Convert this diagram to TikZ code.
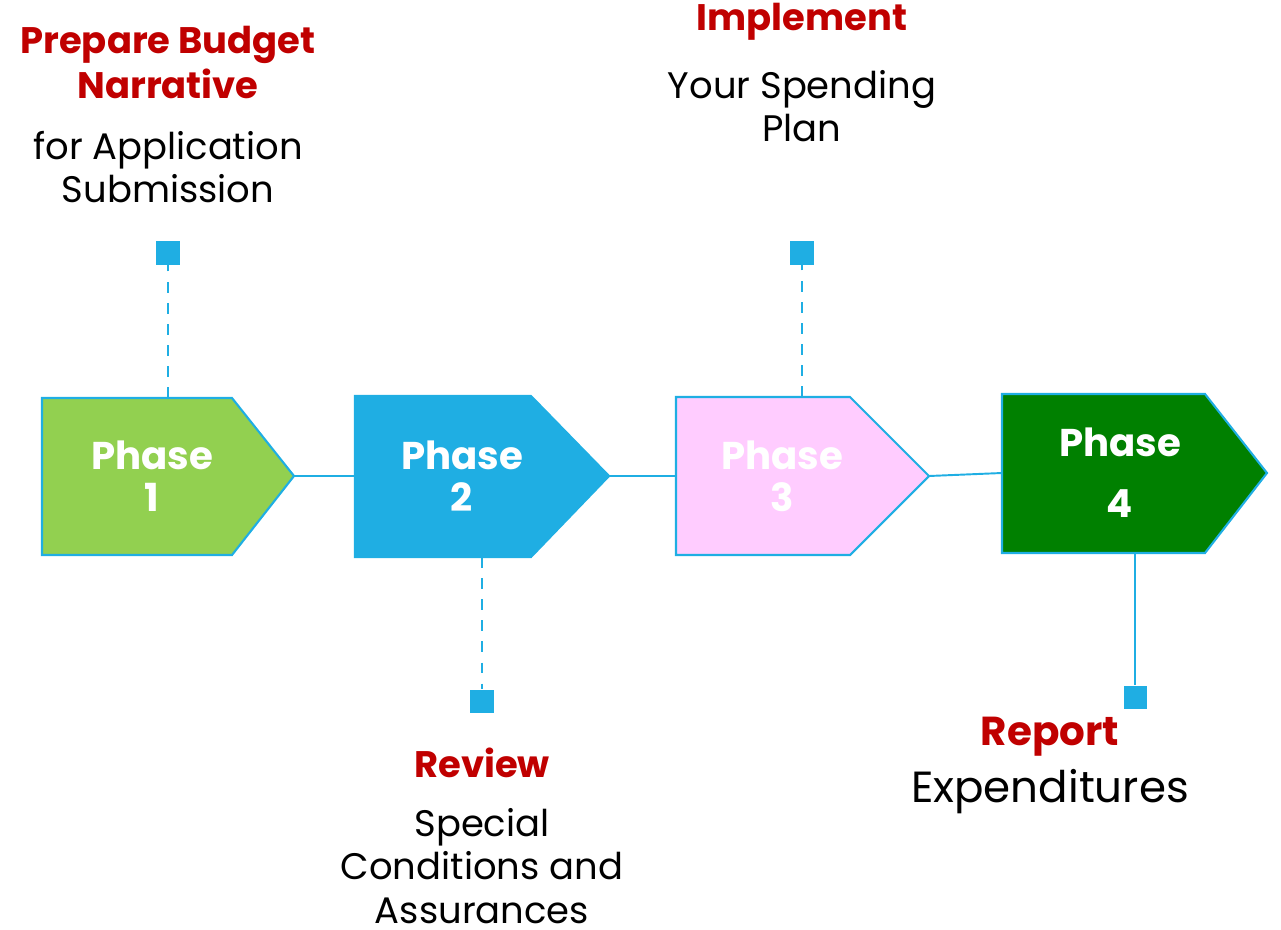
\documentclass[tikz,border=0pt]{standalone}
\usepackage{fontspec}
\setmainfont{Poppins}
\definecolor{linkblue}{HTML}{1FAEE3}
\definecolor{headred}{HTML}{C00000}
\definecolor{leafgreen}{HTML}{92D050}
\definecolor{softpink}{HTML}{FFCCFF}
\definecolor{deepgreen}{HTML}{008000}

\begin{document}
\begin{tikzpicture}[x=0.01cm, y=-0.01cm,
    phase/.style={draw=linkblue, line width=0.6pt},
    phasetext/.style={text=white, font=\bfseries\fontsize{11}{12}\selectfont, align=center},
    head/.style={text=headred, font=\bfseries\fontsize{10.5}{12.8}\selectfont, align=center, inner sep=1pt},
    body/.style={font=\fontsize{10.5}{12.3}\selectfont, align=center, inner sep=1pt},
    pin/.style={fill=linkblue, minimum size=0.23cm, inner sep=0pt},
    link/.style={draw=linkblue, line width=0.55pt}]
    \useasboundingbox (0,0) rectangle (1281,930);

    % phase arrows
    \draw [phase, fill=leafgreen] (42,398) -- (232,398) -- (294,476) -- (232,555) -- (42,555) -- cycle;
    \draw [phase, fill=linkblue] (355,396) -- (531,396) -- (609,476) -- (531,557) -- (355,557) -- cycle;
    \draw [phase, fill=softpink] (676,397) -- (850,397) -- (929,476) -- (850,555) -- (676,555) -- cycle;
    \draw [phase, fill=deepgreen] (1002,394) -- (1205,394) -- (1267,473) -- (1205,553) -- (1002,553) -- cycle;
    \coordinate (p1in) at (42,476);   \coordinate (p1out) at (294,476);
    \coordinate (p2in) at (355,476);  \coordinate (p2out) at (609,476);
    \coordinate (p3in) at (676,476);  \coordinate (p3out) at (929,476);
    \coordinate (p4in) at (1002,473); \coordinate (p4out) at (1267,473);
    \coordinate (p1top) at (168,398);
    \coordinate (p2bot) at (482,557);
    \coordinate (p3top) at (802,397);
    \coordinate (p4bot) at (1135,553);

    \node [phasetext] (p1) at (152,476) {Phase\\1};
    \node [phasetext] (p2) at (462,476) {Phase\\2};
    \node [phasetext] (p3) at (782,476) {Phase\\3};
    \node [phasetext, font=\bfseries\fontsize{11}{17.4}\selectfont] (p4) at (1120,473) {Phase\\4};

    % links between phases
    \draw [link] (p1out) -- (p2in);
    \draw [link] (p2out) -- (p3in);
    \draw [link] (p3out) -- (p4in);

    % pins
    \node [pin] (pin1) at (168,253) {};
    \node [pin] (pin2) at (482,701) {};
    \node [pin] (pin3) at (802,253) {};
    \node [pin] (pin4) at (1135,697) {};
    \draw [link, dashed] (p1top) -- (pin1);
    \draw [link, dashed] (p2bot) -- (pin2);
    \draw [link, dashed] (p3top) -- (pin3);
    \draw [link, line width=0.4pt] (p4bot) -- (pin4);

    % captions
    \node [head] (h1) at (168,62) {Prepare Budget\\Narrative};
    \node [body] (b1) at (168,167) {for Application\\Submission};
    \node [head] (h3) at (802,22) {Implement};
    \node [body] (b3) at (802,106) {Your Spending\\Plan};
    \node [head] (h2) at (482,763) {Review};
    \node [body] (b2) at (482,866) {Special\\Conditions and\\Assurances};
    \node [head, font=\bfseries\fontsize{11.5}{13}\selectfont] (h4) at (1050,737) {Report};
    \node [body, font=\fontsize{12.4}{14}\selectfont] (b4) at (1050,792) {Expenditures};
\end{tikzpicture}
\end{document}
